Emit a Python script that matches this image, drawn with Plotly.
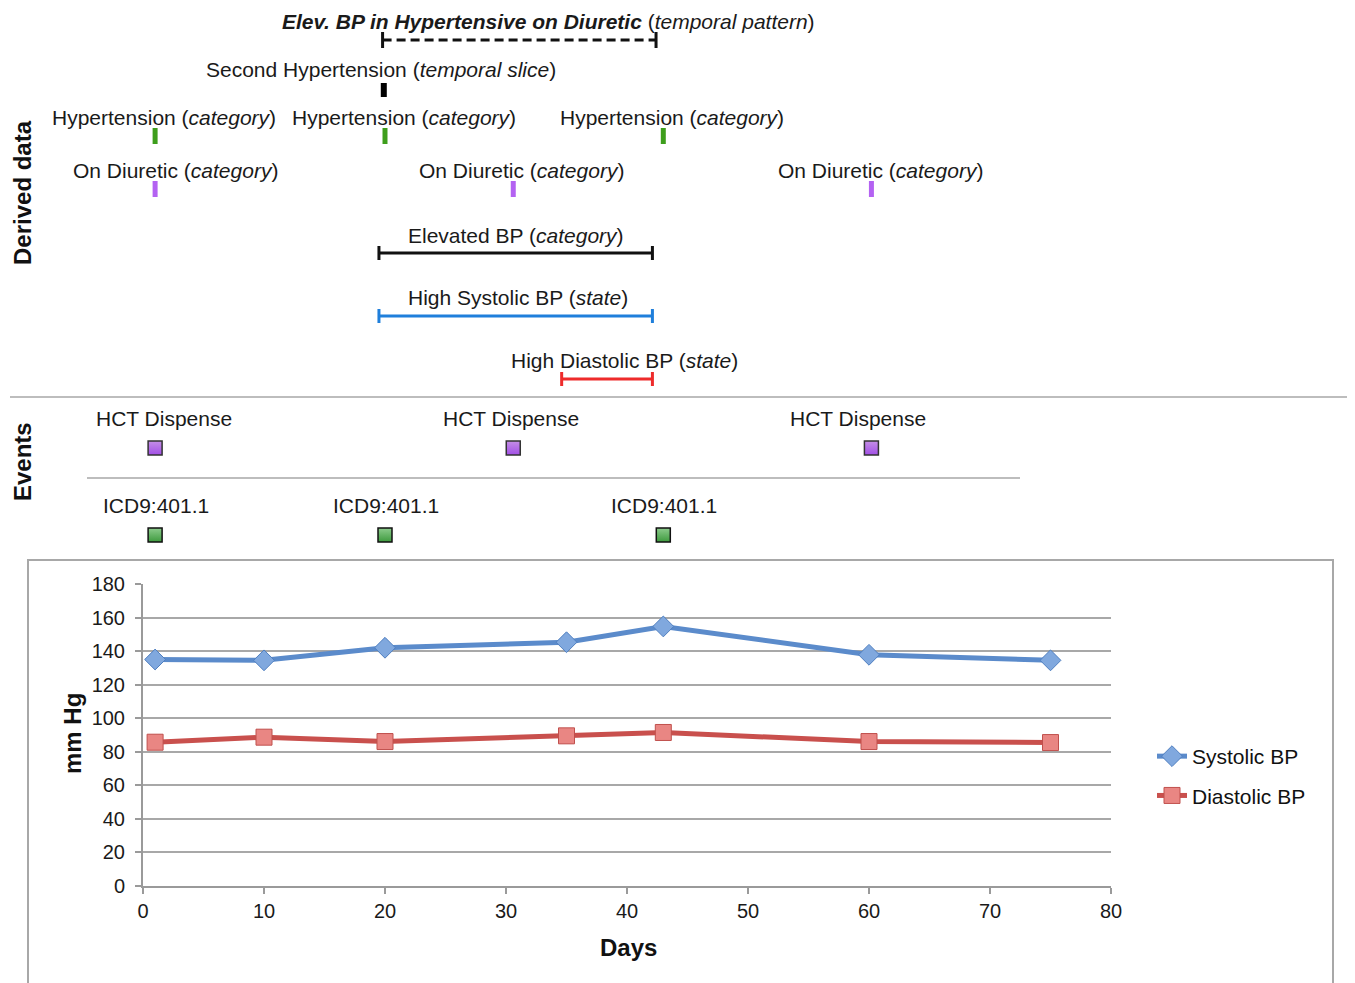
import plotly.graph_objects as go

OFF = 8                      # page body margin of the html page
W, H = 1355 - OFF, 983 - OFF
FONT = "Liberation Sans, Arial, sans-serif"

# ---------------- data ----------------
days = [1, 10, 20, 35, 43, 60, 75]
systolic = [135, 134.5, 142, 145.3, 154.7, 137.8, 134.5]
diastolic = [85.7, 88.7, 86.1, 89.5, 91.5, 86.1, 85.5]

x_ticks = [0, 10, 20, 30, 40, 50, 60, 70, 80]
y_ticks = [0, 20, 40, 60, 80, 100, 120, 140, 160, 180]

hypertension_days = [1, 20, 43]
diuretic_days = [1, 30.6, 60.2]
second_hypertension_day = [19.9]
pattern_interval = [19.8, 42.4]
elevated_bp_interval = [19.5, 42.1]
high_systolic_interval = [19.5, 42.1]
high_diastolic_interval = [34.6, 42.1]
hct_days = [1, 30.6, 60.2]
icd9_days = [1, 20, 43]

# ---------------- layout helpers (screen pixels) ----------------
def px(x):
    return (x - OFF) / W

def py(y):
    return 1 - (y - OFF) / H

PX0, PX1 = 143, 1111          # plot x extent in pixels
PY_TOP, PY_BOT = 584, 886      # plot y extent in pixels

ROW = dict(pattern=40, slice=90, hyper=136, diur=189, elev=253, sys=316, dia=379,
           hct=448, icd=535)
LBL = dict(pattern=21, slice=69, hyper=117, diur=170, elev=235, sys=297, dia=360,
           hct=418, icd=505)
TXT = 21

fig = go.Figure()

# ---------------- BP chart ----------------
fig.add_trace(go.Scatter(
    x=days, y=systolic, name="Systolic BP", mode="lines+markers",
    line=dict(color="#5B8BCB", width=5),
    marker=dict(symbol="diamond", size=16, color="#80A8DE",
                line=dict(color="#4F7FC0", width=1)),
    legendgroup="s", xaxis="x", yaxis="y", cliponaxis=False))
fig.add_trace(go.Scatter(
    x=days, y=diastolic, name="Diastolic BP", mode="lines+markers",
    line=dict(color="#C9504D", width=5),
    marker=dict(symbol="square", size=16, color="#E98683",
                line=dict(color="#C0504D", width=1)),
    legendgroup="d", xaxis="x", yaxis="y", cliponaxis=False))

# ---------------- overlay helpers ----------------
def ticks(ds, yc, half):
    xs, ys = [], []
    for d in ds:
        xs += [d, d, None]
        ys += [yc - half, yc + half, None]
    return xs, ys

def add_ticks(ds, yc, half, color, width):
    xs, ys = ticks(ds, yc, half)
    fig.add_trace(go.Scatter(x=xs, y=ys, mode="lines", line=dict(color=color, width=width),
                             showlegend=False, hoverinfo="skip", xaxis="x2", yaxis="y2",
                             cliponaxis=False))

def add_interval(iv, yc, color, width, dash="solid", cap=7):
    fig.add_trace(go.Scatter(x=iv, y=[yc, yc], mode="lines",
                             line=dict(color=color, width=width, dash=dash),
                             showlegend=False, hoverinfo="skip", xaxis="x2", yaxis="y2",
                             cliponaxis=False))
    add_ticks(iv, yc, cap, color, width)

def label(x, y, text, xshift=0, size=TXT):
    fig.add_annotation(x=x, y=y, xref="x2", yref="y2", text=text, showarrow=False,
                       xshift=xshift, font=dict(family=FONT, size=size, color="#1a1a1a"),
                       xanchor="center", yanchor="middle")

# temporal pattern
add_interval(pattern_interval, ROW["pattern"], "#111111", 3, dash="9px,5px", cap=8)
label(sum(pattern_interval) / 2, LBL["pattern"],
      "<b><i>Elev. BP in Hypertensive on Diuretic</i></b> (<i>temporal pattern</i>)", xshift=29)

# second hypertension slice
add_ticks(second_hypertension_day, ROW["slice"], 7, "#000000", 6)
label(second_hypertension_day[0], LBL["slice"], "Second Hypertension (<i>temporal slice</i>)", xshift=-3)

# hypertension category
add_ticks(hypertension_days, ROW["hyper"], 8, "#3E9E1C", 5)
for d, s in zip(hypertension_days, [9, 19, 9]):
    label(d, LBL["hyper"], "Hypertension (<i>category</i>)", xshift=s)

# on diuretic
add_ticks(diuretic_days, ROW["diur"], 8, "#B462F2", 5)
for d, s in zip(diuretic_days, [20, 8, 9]):
    label(d, LBL["diur"], "On Diuretic (<i>category</i>)", xshift=s)

# intervals
add_interval(elevated_bp_interval, ROW["elev"], "#111111", 3)
label(sum(elevated_bp_interval) / 2, LBL["elev"], "Elevated BP (<i>category</i>)")
add_interval(high_systolic_interval, ROW["sys"], "#1F7FDB", 3)
label(sum(high_systolic_interval) / 2, LBL["sys"], "High Systolic BP (<i>state</i>)", xshift=2)
add_interval(high_diastolic_interval, ROW["dia"], "#EE2B2B", 3)
label(sum(high_diastolic_interval) / 2, LBL["dia"], "High Diastolic BP (<i>state</i>)", xshift=17)

# events
fig.add_trace(go.Scatter(x=hct_days, y=[ROW["hct"]] * len(hct_days), mode="markers",
                         marker=dict(symbol="square", size=14, color="#C48EE6",
                                     line=dict(color="#333333", width=1.5),
                                     gradient=dict(type="vertical", color="#A24FE6")),
                         showlegend=False, hoverinfo="skip", xaxis="x2", yaxis="y2"))
for d, s in zip(hct_days, [9, -2, -13]):
    label(d, LBL["hct"], "HCT Dispense", xshift=s)

fig.add_trace(go.Scatter(x=icd9_days, y=[ROW["icd"]] * len(icd9_days), mode="markers",
                         marker=dict(symbol="square", size=14, color="#8CCB8C",
                                     line=dict(color="#111111", width=1.5),
                                     gradient=dict(type="vertical", color="#3E9A3E")),
                         showlegend=False, hoverinfo="skip", xaxis="x2", yaxis="y2"))
for d in icd9_days:
    label(d, LBL["icd"], "ICD9:401.1", xshift=1)

# section titles and axis titles
for text, xc, yc, ang in [("<b>Derived data</b>", 22, 193, -90), ("<b>Events</b>", 22, 462, -90),
                          ("<b>mm Hg</b>", 72, 734, -90), ("<b>Days</b>", 628, 947, 0)]:
    fig.add_annotation(x=px(xc), y=py(yc), xref="paper", yref="paper", text=text,
                       textangle=ang, showarrow=False,
                       font=dict(family=FONT, size=24, color="#111111"),
                       xanchor="center", yanchor="middle")

# separators and chart border
fig.add_shape(type="line", xref="paper", yref="paper", x0=px(10), x1=px(1352),
              y0=py(397), y1=py(397), line=dict(color="#BDBDBD", width=2))
fig.add_shape(type="line", xref="paper", yref="paper", x0=px(87), x1=px(1020),
              y0=py(478), y1=py(478), line=dict(color="#BDBDBD", width=2))
fig.add_shape(type="rect", xref="paper", yref="paper", x0=px(28), x1=px(1333),
              y0=py(995), y1=py(560), line=dict(color="#A8A8A8", width=2))

fig.update_layout(
    width=W, height=H,
    margin=dict(l=0, r=0, t=0, b=0, autoexpand=False),
    paper_bgcolor="white", plot_bgcolor="rgba(0,0,0,0)",
    font=dict(family=FONT, size=20, color="#1a1a1a"),
    xaxis=dict(domain=[px(PX0), px(PX1)], range=[0, 80], tickvals=x_ticks,
               showgrid=False, zeroline=False, showline=True, linecolor="#9A9A9A",
               linewidth=2, ticks="outside", ticklen=6, tickcolor="#9A9A9A", tickwidth=2,
               tickfont=dict(size=20, color="#1a1a1a"), automargin=False,
               anchor="y", fixedrange=True),
    yaxis=dict(domain=[py(PY_BOT), py(PY_TOP)], range=[0, 180], tickvals=y_ticks,
               showgrid=True, gridcolor="#A8A8A8", gridwidth=2, zeroline=False,
               showline=True, linecolor="#9A9A9A", linewidth=2, ticks="outside", ticklen=6,
               tickcolor="#9A9A9A", tickwidth=2, ticklabelstandoff=6,
               tickfont=dict(size=20, color="#1a1a1a"), automargin=False,
               anchor="x", fixedrange=True),
    xaxis2=dict(domain=[px(PX0), px(PX1)], range=[0, 80], visible=False, anchor="y2",
                fixedrange=True, automargin=False),
    yaxis2=dict(domain=[0, 1], range=[H + OFF, OFF], visible=False, anchor="x2",
                fixedrange=True, automargin=False),
    legend=dict(x=px(1152), y=py(736), xanchor="left", yanchor="top",
                font=dict(size=21, color="#111111"), tracegroupgap=9,
                bgcolor="rgba(0,0,0,0)", itemwidth=30),
    showlegend=True,
)

fig.write_html("out.html")
